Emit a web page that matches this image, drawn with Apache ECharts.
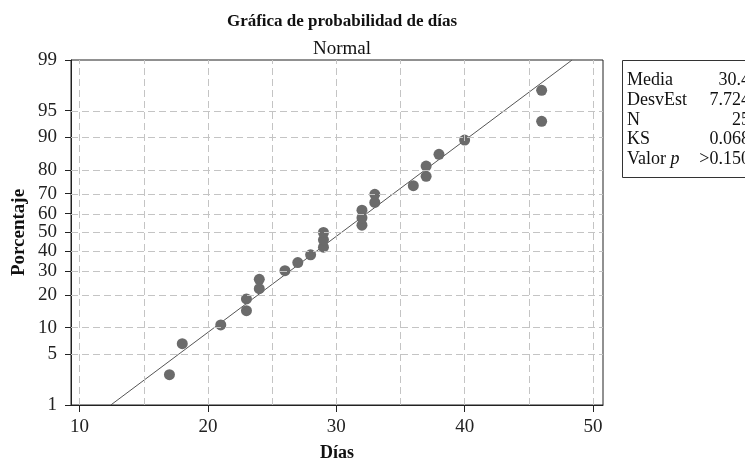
<!DOCTYPE html>
<html>
<head>
<meta charset="utf-8">
<script src="https://cdn.jsdelivr.net/npm/echarts@6/dist/echarts.min.js"></script>
<style>
html,body{margin:0;padding:0;background:#fff;}
#chart{width:745px;height:464px;}
</style>
</head>
<body>
<div id="chart"></div>
<script>
// Data (days) and their plotting positions (percent)
const dias = [17,18,21,23,23,24,24,26,27,28,29,29,29,32,32,32,33,33,36,37,37,38,40,46,46];
const porcentajes = [2.76,6.69,10.63,14.57,18.50,22.44,26.38,30.31,34.25,38.19,42.13,46.06,50.00,53.94,57.87,61.81,65.75,69.69,73.62,77.56,81.50,85.43,89.37,93.31,97.24];
const media = 30.4;
const desvEst = 7.724;
const fitPercents = [1, 5, 10, 20, 30, 40, 50, 60, 70, 80, 90, 95, 99];
const yTickLabels = [1, 5, 10, 20, 30, 40, 50, 60, 70, 80, 90, 95, 99];
const xTickLabels = [10, 20, 30, 40, 50];
const xGridValues = [10, 15, 20, 25, 30, 35, 40, 45, 50];
const statNames = ['Media', 'DesvEst', 'N', 'KS', 'Valor p'];
const statValues = ['30.4', '7.724', '25', '0.068', '>0.150'];

// inverse normal CDF (probability scale)
function probit(p) {
  const a=[-3.969683028665376e+01,2.209460984245205e+02,-2.759285104469687e+02,1.383577518672690e+02,-3.066479806614716e+01,2.506628277459239e+00];
  const b=[-5.447609879822406e+01,1.615858368580409e+02,-1.556989798598866e+02,6.680131188771972e+01,-1.328068155288572e+01];
  const c=[-7.784894002430293e-03,-3.223964580411365e-01,-2.400758277161838e+00,-2.549732539343734e+00,4.374664141464968e+00,2.938163982698783e+00];
  const d=[7.784695709041462e-03,3.224671290700398e-01,2.445134137142996e+00,3.754408661907416e+00];
  const pl=0.02425, ph=1-pl; let q,r;
  if (p<pl){q=Math.sqrt(-2*Math.log(p));return (((((c[0]*q+c[1])*q+c[2])*q+c[3])*q+c[4])*q+c[5])/((((d[0]*q+d[1])*q+d[2])*q+d[3])*q+1);}
  if (p<=ph){q=p-0.5;r=q*q;return (((((a[0]*r+a[1])*r+a[2])*r+a[3])*r+a[4])*r+a[5])*q/(((((b[0]*r+b[1])*r+b[2])*r+b[3])*r+b[4])*r+1);}
  q=Math.sqrt(-2*Math.log(1-p));return -(((((c[0]*q+c[1])*q+c[2])*q+c[3])*q+c[4])*q+c[5])/((((d[0]*q+d[1])*q+d[2])*q+d[3])*q+1);
}
const zOf = p => probit(p/100);
const yTickZ = yTickLabels.map(zOf);
const zMin = zOf(1), zMax = zOf(99);
const points = dias.map((d,i)=>[d, zOf(porcentajes[i])]);
const fitLine = fitPercents.map(p=>[media + desvEst*zOf(p), zOf(p)]);

const serif = 'Liberation Serif';
const gridColor = '#c4c4c4';
const chart = echarts.init(document.getElementById('chart'), null, {renderer:'canvas'});

const hLines = yTickLabels.filter(v=>v!==1 && v!==99).map(v=>({yAxis: zOf(v)}));
const vLines = xGridValues.map(v=>({xAxis: v}));

const statGraphics = [];
statGraphics.push({type:'rect', shape:{x:622.5, y:60.5, width:140, height:117}, style:{fill:'#fff', stroke:'#333', lineWidth:1}});
statNames.forEach((n,i)=>{
  const y = 80.5 + i*19.7;
  if (n === 'Valor p') {
    statGraphics.push({type:'text', x:627, y:y, style:{rich:{a:{fontFamily:serif,fontSize:18,fill:'#111'},b:{fontFamily:serif,fontSize:18,fontStyle:'italic',fill:'#111'}}, text:'{a|Valor }{b|p}', verticalAlign:'middle', textAlign:'left'}});
  } else {
    statGraphics.push({type:'text', x:627, y:y, style:{text:n, fontFamily:serif, fontSize:18, fill:'#111', verticalAlign:'middle', textAlign:'left'}});
  }
  statGraphics.push({type:'text', x:750, y:y, style:{text:statValues[i], fontFamily:serif, fontSize:18, fill:'#111', verticalAlign:'middle', textAlign:'right'}});
});

chart.setOption({
  animation:false,
  backgroundColor:'#fff',
  title:[
    {text:'Gráfica de probabilidad de días', left:337, top:8, textAlign:'center', textStyle:{fontFamily:serif, fontWeight:'bold', fontSize:17, color:'#111'}},
    {text:'Normal', left:337, top:35, textAlign:'center', textStyle:{fontFamily:serif, fontWeight:'normal', fontSize:19, color:'#111'}}
  ],
  grid:{left:71, right:142, top:60, bottom:59, show:true, borderColor:'#222', borderWidth:1, backgroundColor:'transparent', containLabel:false, outerBoundsMode:'none'},
  xAxis:{
    type:'value', min:9.33, max:50.78,
    name:'Días', nameLocation:'middle', nameGap:39, nameMoveOverlap:false,
    nameTextStyle:{fontFamily:serif, fontWeight:'bold', fontSize:18, color:'#111'},
    axisLine:{show:true, onZero:false, lineStyle:{color:'#222'}},
    axisTick:{show:true, length:7, lineStyle:{color:'#222'}, customValues:xTickLabels},
    axisLabel:{fontFamily:serif, fontSize:19, color:'#222', margin:13, customValues:xTickLabels, formatter:v=>String(Math.round(v))},
    splitLine:{show:false}
  },
  yAxis:{
    type:'value', min:zMin, max:zMax,
    name:'Porcentaje', nameLocation:'middle', nameGap:42, nameMoveOverlap:false,
    nameTextStyle:{fontFamily:serif, fontWeight:'bold', fontSize:19, color:'#111'},
    axisLine:{show:true, onZero:false, lineStyle:{color:'#222'}},
    axisTick:{show:true, length:6, lineStyle:{color:'#222'}, customValues:yTickZ},
    axisLabel:{fontFamily:serif, fontSize:19, color:'#222', margin:14, customValues:yTickZ,
      formatter:v=>{let best=yTickLabels[0],bd=1e9;yTickZ.forEach((z,i)=>{const dd=Math.abs(z-v);if(dd<bd){bd=dd;best=yTickLabels[i];}});return String(best);}},
    splitLine:{show:false}
  },
  series:[
    {type:'line', data:[], silent:true,
      markLine:{silent:true, symbol:'none', label:{show:false},
        lineStyle:{color:gridColor, type:[7,4], width:1}, data:hLines.concat(vLines)}},
    {type:'line', data:fitLine, showSymbol:false, symbol:'none', smooth:false,
      lineStyle:{color:'#555', width:1}, z:3},
    {type:'scatter', data:points, symbol:'circle', symbolSize:11,
      itemStyle:{color:'#6b6b6b', opacity:1}, z:4}
  ],
  graphic:statGraphics
});
</script>
</body>
</html>
